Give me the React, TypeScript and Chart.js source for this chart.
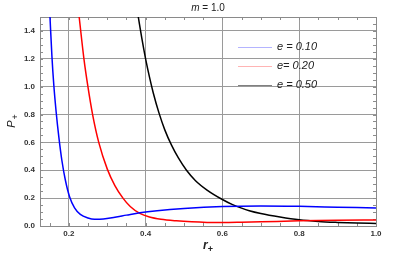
import React, { useEffect, useRef } from "react";
import { Chart, registerables } from "chart.js";

Chart.register(...registerables);

const titleMain = "m";
const titleRest = " = 1.0";
const xTitle = "r";
const yTitle = "P";
const subText = "+";

const seriesLabels = ["e = 0.10", "e= 0.20", "e = 0.50"];
const seriesColors = ["#0000ff", "#ff0000", "#000000"];
const legendColors = ["#b4b4ff", "#ffb4b4", "#808080"];

const rBlue = [0.151, 0.156, 0.161, 0.167, 0.174, 0.182, 0.191, 0.202, 0.215, 0.23, 0.25, 0.267, 0.29, 0.32, 0.35, 0.385, 0.43, 0.5, 0.6, 0.7, 0.8, 0.9, 1.0];
const pBlue = [1.5, 1.22, 1.01, 0.82, 0.64, 0.47, 0.33, 0.21, 0.13, 0.083, 0.057, 0.048, 0.05, 0.063, 0.078, 0.095, 0.11, 0.126, 0.14, 0.144, 0.141, 0.135, 0.129];

const rRed = [0.227, 0.2394, 0.2498, 0.262, 0.278, 0.3, 0.32, 0.341, 0.36, 0.385, 0.41, 0.44, 0.48, 0.52, 0.56, 0.6, 0.65, 0.7, 0.8, 0.9, 1.0];
const pRed = [1.5, 1.2, 1.0, 0.8, 0.6, 0.41, 0.29, 0.2, 0.14, 0.09, 0.064, 0.048, 0.037, 0.03, 0.026, 0.025, 0.027, 0.03, 0.037, 0.041, 0.043];

const rBlack = [0.381, 0.39, 0.4, 0.41, 0.42, 0.435, 0.45, 0.4675, 0.485, 0.5065, 0.53, 0.56, 0.6, 0.625, 0.65, 0.67, 0.7, 0.75, 0.8, 0.85, 0.9, 0.95, 1.0];
const pBlack = [1.5, 1.35, 1.2, 1.07, 0.955, 0.81, 0.69, 0.58, 0.49, 0.4, 0.325, 0.258, 0.19, 0.155, 0.128, 0.11, 0.09, 0.065, 0.045, 0.033, 0.026, 0.021, 0.018];

const xMajorTicks = [0.2, 0.4, 0.6, 0.8, 1.0];
const yMajorTicks = [0.0, 0.2, 0.4, 0.6, 0.8, 1.0, 1.2, 1.4];
const xMin = 0.125;
const xMax = 1.0;
const yMin = 0;
const yMax = 1.5;
const minorStep = 0.05;

const FONT = '"Liberation Sans", Arial, sans-serif';

function zip(xs: number[], ys: number[]) {
  return xs.map((x, i) => ({ x, y: ys[i] }));
}

const decorPlugin = {
  id: "decor",
  beforeDatasetsDraw(chart: any) {
    const { ctx, chartArea: a, scales } = chart;
    const xs = scales.x;
    const ys = scales.y;
    ctx.save();
    ctx.strokeStyle = "#8c8c8c";
    ctx.lineWidth = 1;
    ctx.beginPath();
    for (let v = 0.15; v <= xMax + 1e-9; v += minorStep) {
      const px = Math.round(xs.getPixelForValue(v)) + 0.5;
      ctx.moveTo(px, a.bottom);
      ctx.lineTo(px, a.bottom - 3);
      ctx.moveTo(px, a.top);
      ctx.lineTo(px, a.top + 3);
    }
    for (let v = minorStep; v < yMax - 1e-9; v += minorStep) {
      const py = Math.round(ys.getPixelForValue(v)) + 0.5;
      ctx.moveTo(a.left, py);
      ctx.lineTo(a.left + 3, py);
      ctx.moveTo(a.right, py);
      ctx.lineTo(a.right - 3, py);
    }
    ctx.stroke();
    ctx.strokeStyle = "#8a8a8a";
    ctx.strokeRect(Math.round(a.left) + 0.5, Math.round(a.top) + 0.5, Math.round(a.right - a.left), Math.round(a.bottom - a.top));
    ctx.restore();
  },
  afterDraw(chart: any) {
    const { ctx, chartArea: a } = chart;
    ctx.save();
    ctx.fillStyle = "#222";
    ctx.textBaseline = "alphabetic";
    const cx = (a.left + a.right) / 2;
    ctx.font = `italic 10px ${FONT}`;
    const w1 = ctx.measureText(titleMain).width;
    ctx.font = `10px ${FONT}`;
    const w2 = ctx.measureText(titleRest).width;
    const tx = cx - (w1 + w2) / 2;
    ctx.font = `italic 10px ${FONT}`;
    ctx.fillText(titleMain, tx, 11);
    ctx.font = `10px ${FONT}`;
    ctx.fillText(titleRest, tx + w1, 11);
    ctx.font = `bold italic 12px ${FONT}`;
    const rw = ctx.measureText(xTitle).width;
    ctx.font = `bold 9px ${FONT}`;
    const pw = ctx.measureText(subText).width;
    const xt = cx - (rw + pw) / 2;
    ctx.font = `bold italic 12px ${FONT}`;
    ctx.fillText(xTitle, xt, 249);
    ctx.font = `bold 9px ${FONT}`;
    ctx.fillText(subText, xt + rw, 252);
    const cy = (a.top + a.bottom) / 2;
    ctx.translate(15, cy);
    ctx.rotate(-Math.PI / 2);
    ctx.font = `italic 11px ${FONT}`;
    const Pw = ctx.measureText(yTitle).width;
    ctx.font = `9px ${FONT}`;
    const ppw = ctx.measureText(subText).width;
    const yt = -(Pw + ppw) / 2;
    ctx.font = `italic 11px ${FONT}`;
    ctx.fillText(yTitle, yt, 0);
    ctx.font = `9px ${FONT}`;
    ctx.fillText(subText, yt + Pw + 1, 3);
    ctx.restore();
    ctx.save();
    const rows = [47, 66, 85];
    seriesLabels.forEach((lab, i) => {
      ctx.strokeStyle = legendColors[i];
      ctx.lineWidth = 1;
      ctx.beginPath();
      ctx.moveTo(238, rows[i] + 0.5);
      ctx.lineTo(272, rows[i] + 0.5);
      ctx.stroke();
      ctx.fillStyle = "#222";
      ctx.font = `italic 11px ${FONT}`;
      ctx.textBaseline = "middle";
      ctx.fillText(lab, 277, rows[i]);
    });
    ctx.restore();
  },
};

export default function App() {
  const ref = useRef<HTMLCanvasElement | null>(null);
  useEffect(() => {
    if (!ref.current) return;
    const series = [zip(rBlue, pBlue), zip(rRed, pRed), zip(rBlack, pBlack)];
    const chart = new Chart(ref.current, {
      type: "line",
      data: {
        datasets: series.map((d, i) => ({
          label: seriesLabels[i],
          data: d,
          borderColor: seriesColors[i],
          borderWidth: 1.5,
          pointRadius: 0,
          fill: false,
          cubicInterpolationMode: "monotone" as const,
        })),
      },
      options: {
        animation: false,
        responsive: false,
        maintainAspectRatio: false,
        devicePixelRatio: 1,
        layout: { padding: { top: 17, right: 39, left: 0, bottom: 0 } },
        plugins: { legend: { display: false }, title: { display: false }, tooltip: { enabled: false } },
        scales: {
          x: {
            type: "linear",
            min: xMin,
            max: xMax,
            afterBuildTicks: (s: any) => {
              s.ticks = xMajorTicks.map((v) => ({ value: v }));
            },
            afterFit: (s: any) => {
              s.height = 34;
            },
            grid: { color: "#9a9a9a", lineWidth: 1, drawTicks: false },
            border: { display: false },
            ticks: {
              padding: 3,
              color: "#333",
              font: { family: FONT, size: 8, weight: "bold" },
              callback: (v: any) => Number(v).toFixed(1),
              maxRotation: 0,
            },
          },
          y: {
            type: "linear",
            min: yMin,
            max: yMax,
            afterBuildTicks: (s: any) => {
              s.ticks = yMajorTicks.map((v) => ({ value: v }));
            },
            afterFit: (s: any) => {
              s.width = 40;
            },
            grid: { color: "#9a9a9a", lineWidth: 1, drawTicks: false },
            border: { display: false },
            ticks: {
              padding: 5,
              color: "#333",
              font: { family: FONT, size: 8, weight: "bold" },
              callback: (v: any) => Number(v).toFixed(1),
            },
          },
        },
      },
      plugins: [decorPlugin],
    });
    return () => chart.destroy();
  }, []);
  return (
    <div style={{ position: "fixed", left: 0, top: 0, width: 415, height: 260, background: "#fff" }}>
      <canvas ref={ref} width={415} height={260} style={{ width: 415, height: 260, display: "block" }} />
    </div>
  );
}
